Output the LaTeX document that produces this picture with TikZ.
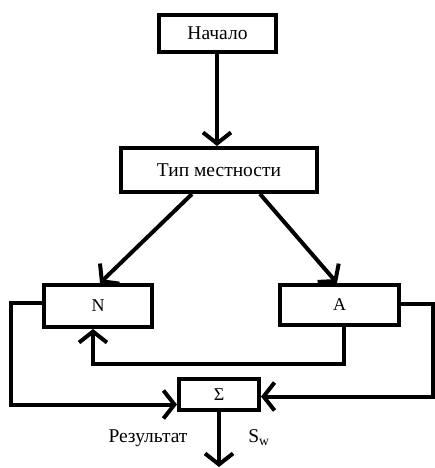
\documentclass[tikz,border=0pt]{standalone}
\usepackage{fontspec}
\setmainfont{Liberation Serif}
\usetikzlibrary{arrows.meta}
\begin{document}
\begin{tikzpicture}[x=1pt,y=-1pt,
  box/.style={draw=black,line width=4pt,rectangle,inner sep=0pt,font=\fontsize{19.5}{22}\selectfont},
  small/.style={font=\fontsize{18}{21}\selectfont},
  arr/.style={line width=4pt,-{Straight Barb[length=11pt,width=28pt,line width=4pt]}},
  lbl/.style={font=\fontsize{19.5}{22}\selectfont,inner sep=0pt}]
\useasboundingbox (0,0) rectangle (434,468);
\node[box,minimum width=117pt,minimum height=37pt] (start) at (217.5,33.5) {Начало};
\node[box,minimum width=196pt,minimum height=44pt] (type) at (219,170) {Тип местности};
\node[box,small,minimum width=108pt,minimum height=42pt] (N) at (98,306) {N};
\node[box,small,minimum width=119pt,minimum height=40pt] (A) at (339.5,305) {A};
\node[box,small,minimum width=80pt,minimum height=31pt] (sum) at (219,394.5) {Σ};
\node[lbl] (res) at (148,438) {Результат};
\node[lbl] (sw) at (259,438) {S\textsubscript{w}};
\draw[arr] ([xshift=-0.5pt]start.south) -- ([xshift=-0.5pt]start.south |- type.north);
\draw[arr] ([xshift=-27pt]type.south) -- ([xshift=2pt]N.north);
\draw[arr] ([xshift=41pt]type.south) -- ([xshift=-2.5pt]A.north);
\draw[arr] ([xshift=4pt]A.south) -- ++(0,37) -| ([xshift=-5pt]N.south);
\draw[arr] ([yshift=3pt]N.west) -- ++(-31,0) |- ([yshift=-10pt]sum.west);
\draw[arr] ([yshift=1pt]A.east) -- ++(32,0) |- ([yshift=-2pt]sum.east);
\draw[arr] (sum.south) -- ++(0,55);
\end{tikzpicture}
\end{document}
